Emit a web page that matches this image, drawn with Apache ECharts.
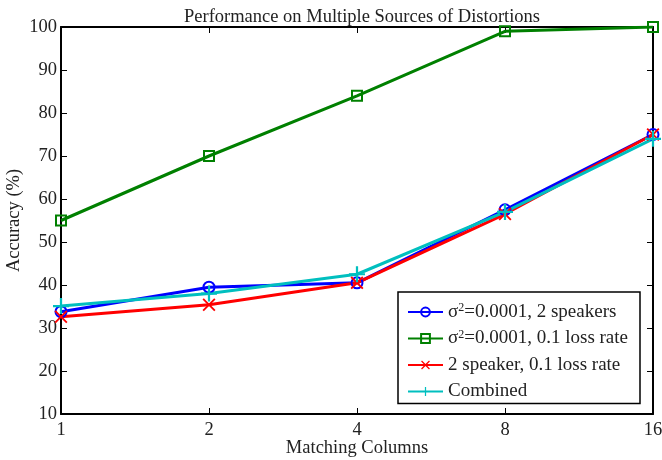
<!DOCTYPE html>
<html>
<head>
<meta charset="utf-8">
<script src="https://cdn.jsdelivr.net/npm/echarts@6/dist/echarts.min.js"></script>
<style>
  html, body { margin: 0; padding: 0; background: #fff; }
  #chart { width: 662px; height: 460px; }
</style>
</head>
<body>
<div id="chart"></div>
<script>
// data
const columns = ['1', '2', '4', '8', '16']
const speakers = [33.8, 39.5, 40.5, 57.5, 75]
const lossRate = [55, 70, 84, 99, 100]
const speakerLoss = [32.6, 35.4, 40.5, 56.5, 75]
const combined = [35.1, 38, 42.5, 57, 74]
const seriesNames = ['σ²=0.0001, 2 speakers', 'σ²=0.0001, 0.1 loss rate', '2 speaker, 0.1 loss rate', 'Combined']

const font = 'Liberation Serif'
const fs = 18.5
const crossPath = 'path://M1,0L5,4L9,0L10,1L6,5L10,9L9,10L5,6L1,10L0,9L4,5L0,1Z'
const plusPath = 'path://M4.3,0H5.7V4.3H10V5.7H5.7V10H4.3V5.7H0V4.3H4.3Z'

const chart = echarts.init(document.getElementById('chart'))

const mk = (name, data, color, symbol, size, hollow) => ({
  name, type: 'line', data,
  xAxisIndex: 0, yAxisIndex: 0,
  symbol, symbolSize: size,
  showAllSymbol: true,
  lineStyle: { color, width: 3 },
  itemStyle: hollow
    ? { color: 'rgba(0,0,0,0)', borderColor: color, borderWidth: 2 }
    : { color, borderWidth: 0 },
  emphasis: { disabled: true },
  animation: false
})

const tickStyle = { show: true, inside: true, length: 6, lineStyle: { color: '#000', width: 1 } }
const lineStyle = { show: true, lineStyle: { color: '#000', width: 2 } }
const labelStyle = { fontFamily: font, fontSize: fs, color: '#222' }

chart.setOption({
  animation: false,
  title: {
    text: 'Performance on Multiple Sources of Distortions',
    left: 357, top: 3, textAlign: 'center',
    textStyle: { fontFamily: font, fontSize: fs, fontWeight: 'normal', color: '#222' }
  },
  grid: { left: 61, right: 9, top: 27, bottom: 46, containLabel: false, outerBoundsMode: 'none' },
  legend: {
    orient: 'vertical',
    left: 398, top: 292,
    width: 245,
    padding: [10, 12, 2, 9],
    itemGap: 6.5,
    itemWidth: 35, itemHeight: 11,
    backgroundColor: '#fff',
    borderColor: '#000', borderWidth: 1.5, borderRadius: 0,
    formatter: n => n.replace('²', '{sup|2}'),
    textStyle: {
      fontFamily: font, fontSize: 19, color: '#222', lineHeight: 20,
      rich: { sup: { fontFamily: font, fontSize: 12, color: '#222', lineHeight: 12, verticalAlign: 'top' } }
    },
    data: seriesNames
  },
  xAxis: [
    {
      type: 'category', data: columns, boundaryGap: false,
      name: 'Matching Columns', nameLocation: 'middle', nameGap: 25, nameMoveOverlap: false,
      nameTextStyle: labelStyle,
      axisLine: lineStyle, axisTick: tickStyle,
      axisLabel: Object.assign({ margin: 7 }, labelStyle),
      splitLine: { show: false }
    },
    {
      type: 'category', data: columns, boundaryGap: false, position: 'top',
      axisLine: lineStyle, axisTick: tickStyle,
      axisLabel: { show: false }, splitLine: { show: false }
    }
  ],
  yAxis: [
    {
      type: 'value', min: 10, max: 100, interval: 10,
      name: 'Accuracy (%)', nameLocation: 'middle', nameGap: 37, nameMoveOverlap: false,
      nameTextStyle: labelStyle,
      axisLine: lineStyle, axisTick: tickStyle,
      axisLabel: Object.assign({ margin: 4 }, labelStyle),
      splitLine: { show: false }
    },
    {
      type: 'value', min: 10, max: 100, interval: 10, position: 'right',
      axisLine: lineStyle, axisTick: tickStyle,
      axisLabel: { show: false }, splitLine: { show: false }
    }
  ],
  series: [
    mk(seriesNames[0], speakers, '#0000ff', 'circle', 11, true),
    mk(seriesNames[1], lossRate, '#008000', 'rect', 10, true),
    mk(seriesNames[2], speakerLoss, '#ff0000', crossPath, 13, false),
    mk(seriesNames[3], combined, '#00bfbf', plusPath, 16, false)
  ]
})
</script>
</body>
</html>
